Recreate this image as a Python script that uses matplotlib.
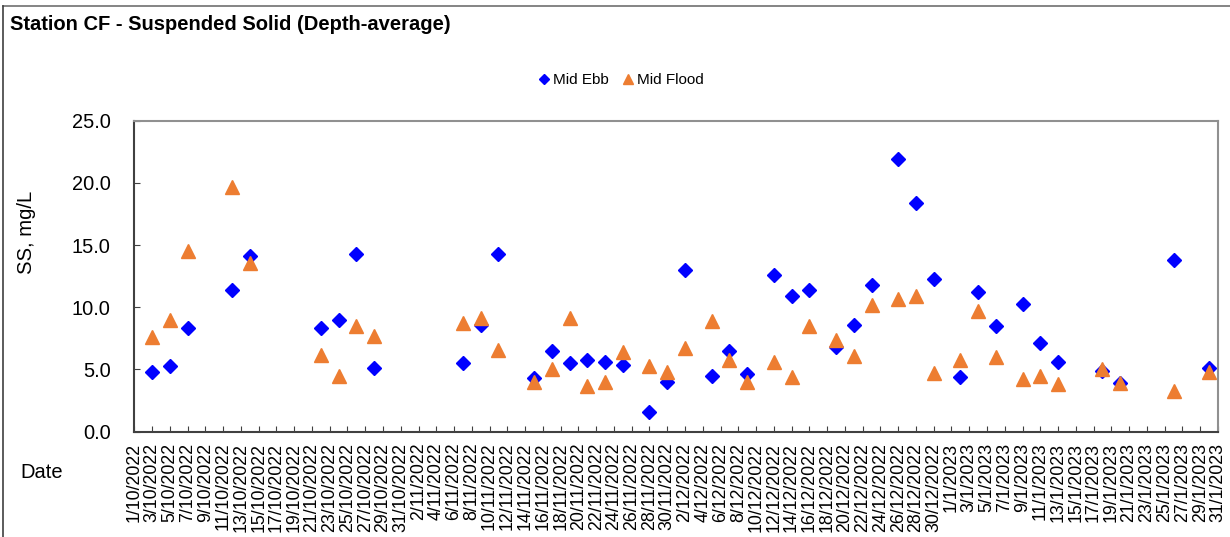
import matplotlib
matplotlib.use("Agg")
import matplotlib.pyplot as plt
from matplotlib.lines import Line2D
import pandas as pd

plt.rcParams["font.family"] = ["Liberation Sans", "DejaVu Sans"]

# sampling dates (d/m/Y) and depth-averaged SS (mg/L)
dates = ["3/10/2022", "5/10/2022", "7/10/2022", "12/10/2022", "14/10/2022",
         "22/10/2022", "24/10/2022", "26/10/2022", "28/10/2022",
         "7/11/2022", "9/11/2022", "11/11/2022", "15/11/2022", "17/11/2022",
         "19/11/2022", "21/11/2022", "23/11/2022", "25/11/2022", "28/11/2022",
         "30/11/2022", "2/12/2022", "5/12/2022", "7/12/2022", "9/12/2022",
         "12/12/2022", "14/12/2022", "16/12/2022", "19/12/2022", "21/12/2022",
         "23/12/2022", "26/12/2022", "28/12/2022", "30/12/2022",
         "2/1/2023", "4/1/2023", "6/1/2023", "9/1/2023", "11/1/2023",
         "13/1/2023", "18/1/2023", "20/1/2023", "26/1/2023", "30/1/2023"]
mid_ebb = [4.8, 5.3, 8.3, 11.4, 14.1, 8.3, 9.0, 14.3, 5.1,
           5.5, 8.6, 14.3, 4.3, 6.5, 5.5, 5.8, 5.6, 5.4, 1.6, 4.0,
           13.0, 4.5, 6.5, 4.6, 12.6, 10.9, 11.4, 6.8, 8.6, 11.8, 21.9, 18.4, 12.3,
           4.4, 11.2, 8.5, 10.3, 7.1, 5.6, 4.9, 3.9, 13.8, 5.1]
mid_flood = [7.6, 9.0, 14.5, 19.7, 13.6, 6.2, 4.5, 8.5, 7.7,
             8.7, 9.1, 6.6, 4.0, 5.0, 9.1, 3.7, 4.0, 6.4, 5.3, 4.8,
             6.7, 8.9, 5.8, 4.0, 5.6, 4.4, 8.5, 7.4, 6.1, 10.2, 10.7, 10.9, 4.7,
             5.8, 9.7, 6.0, 4.2, 4.5, 3.8, 5.0, 3.9, 3.3, 4.8]
y_ticks = [0, 5, 10, 15, 20, 25]

x = pd.to_datetime(dates, format="%d/%m/%Y")
start = pd.Timestamp("2022-10-01")
end = pd.Timestamp("2023-01-31")
ticks = pd.date_range(start, end, freq="2D")
tick_labels = [f"{d.day}/{d.month}/{d.year}" for d in ticks]

fig = plt.figure(figsize=(12.3, 5.37), dpi=100)
ax = fig.add_axes([0.1092, 0.1961, 0.8810, 0.5791])

ax.plot(x, mid_ebb, linestyle="none", marker="D", markersize=7,
        color="#0000FF", label="Mid Ebb", zorder=3)
ax.plot(x, mid_flood, linestyle="none", marker="^", markersize=9.5,
        color="#ED7D31", label="Mid Flood", zorder=3)

ax.set_xlim(start, end)
ax.set_ylim(0, 25)
ax.set_yticks(y_ticks)
ax.set_yticklabels([f"{v:.1f}" for v in y_ticks], fontsize=14.4)
ax.tick_params(axis="y", direction="in", length=4, pad=17, color="#404040")
ax.set_xticks(ticks)
ax.set_xticklabels(tick_labels, rotation=90, fontsize=12.8, va="top", ha="center")
ax.tick_params(axis="x", direction="in", length=4, pad=8, color="#404040")

for s in ["left", "bottom"]:
    ax.spines[s].set_color("#404040")
    ax.spines[s].set_linewidth(1.5)
for s in ["top", "right"]:
    ax.spines[s].set_color("#909090")
    ax.spines[s].set_linewidth(1.5)

ax.set_ylabel("SS, mg/L", fontsize=14.6)
ax.yaxis.set_label_coords(27 / 1230 / 0.8810 - 0.1092 / 0.8810, (431.7 - 232) / 311)
ax.yaxis.label.set_va("center")

fig.text(10 / 1230, 1 - 24 / 537, "Station CF - Suspended Solid (Depth-average)",
         fontsize=14.5, fontweight="bold", va="center", ha="left")
fig.text(20 / 1230, 1 - 472 / 537, "Date", fontsize=14.5, va="center", ha="left")

fig.legend(loc="center", bbox_to_anchor=(620 / 1230, 1 - 80 / 537), ncol=2,
           frameon=False, fontsize=11, handletextpad=0.1, columnspacing=0.75,
           markerscale=0.75, handlelength=1.0)

# chart area border (cropped on right and bottom)
fig.add_artist(Line2D([3 / 1230, 1], [1 - 5.5 / 537, 1 - 5.5 / 537],
                      transform=fig.transFigure, color="#707070", lw=1.2))
fig.add_artist(Line2D([3 / 1230, 3 / 1230], [0, 1 - 5.5 / 537],
                      transform=fig.transFigure, color="#404040", lw=1.2))

fig.savefig("out.png", dpi=100)
